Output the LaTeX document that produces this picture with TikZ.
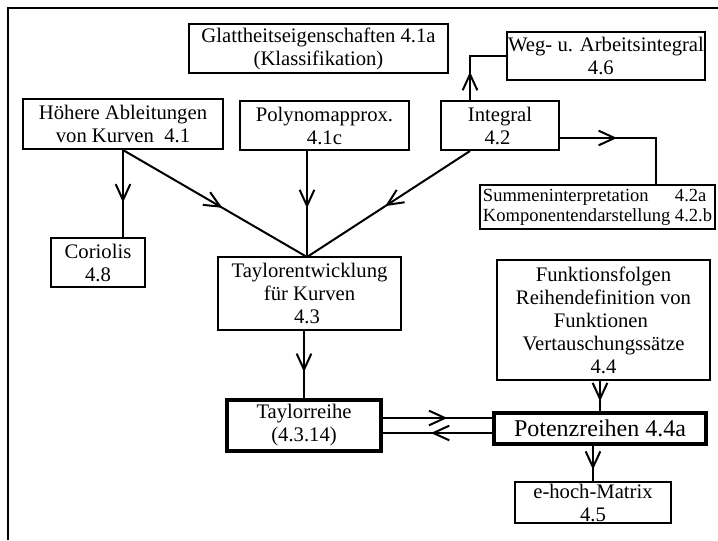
\documentclass[tikz,border=0pt]{standalone}
\usepackage{fontspec}
\setmainfont{Liberation Serif}
\usetikzlibrary{arrows.meta,decorations.markings,calc}

\begin{document}
\begin{tikzpicture}[x=0.75pt,y=-0.75pt,
    box/.style={draw, line width=1.5pt, inner sep=0pt, align=center,
      font=\fontsize{15.5}{17.25}\selectfont},
    thinbox/.style={box, line width=0.8pt},
    thickbox/.style={box, line width=2.6pt},
    boxsize/.style 2 args={minimum width=#1*0.75pt, minimum height=#2*0.75pt},
    conn/.style={line width=1.5pt},
    midarrow/.style={conn, postaction={decorate}, decoration={markings,
      mark=at position #1 with {\arrow{Straight Barb[length=12pt,width=11pt]}}}}]

    % Fix size and draw frame
    \useasboundingbox (0,0) rectangle (718,540);
    \draw[line width=1.5pt] (8,540) -- (8,8) -- (718,8);

    % Boxes of the upper row
    \node[box, boxsize={259}{49}] (glatt) at (318.5,48.5)
      {Glattheitseigenschaften 4.1a\\(Klassifikation)};
    \node[thinbox, boxsize={198}{48}] (weg) at (606,56)
      {Weg- u. Arbeitsintegral\\4.6~~~};
    \node[box, boxsize={200}{50}] (hoehere) at (123,124)
      {Höhere Ableitungen\\von Kurven~~4.1};
    \node[box, boxsize={169}{49}] (polynom) at (324.5,125.5)
      {Polynomapprox.\\4.1c};
    \node[box, boxsize={118}{49}] (integral) at (500,125.5)
      {Integral\\4.2~~};
    \node[thinbox, boxsize={235}{44}, font=\fontsize{13.9}{15}\selectfont]
      (summen) at (597.5,207)
      {\begin{tabular}{@{}l@{ }l@{}}Summeninterpretation & 4.2a\\
       Komponentendarstellung & 4.2.b\end{tabular}};

    % Boxes of the middle and lower part
    \node[thinbox, boxsize={94}{49}] (coriolis) at (98,262.5)
      {Coriolis\\4.8};
    \node[box, boxsize={183}{73}] (tayent) at (309.5,293.5)
      {Taylorentwicklung\\für Kurven\\4.3~~};
    \node[box, boxsize={213}{120}] (funk) at (603.5,320)
      {Funktionsfolgen\\Reihendefinition von\\Funktionen~~\\Vertauschungssätze\\4.4};
    \node[thickbox, boxsize={154}{51}] (tayreihe) at (304,425.5)
      {Taylorreihe\\(4.3.14)};
    \node[thickbox, boxsize={212}{31}, font=\fontsize{18}{21}\selectfont]
      (potenz) at (600,428.5) {Potenzreihen 4.4a};
    \node[box, boxsize={156}{41}] (ehoch) at (593,502.5)
      {e-hoch-Matrix\\4.5};

    % Connectors
    \coordinate (meet) at (307,257);
    \draw[midarrow=0.6] (hoehere.south) -- (hoehere.south |- coriolis.north);
    \draw[midarrow=0.54] (hoehere.south) -- (meet);
    \draw[midarrow=0.54] (meet |- polynom.south) -- (meet);
    \draw[midarrow=0.52] ($(integral.south)+(-30,0)$) -- (meet);
    \draw[midarrow=0.35] ($(integral.north)+(-30,0)$) |- (weg.west);
    \draw[midarrow=0.4] ($(integral.east)+(0,12.5)$) -| ($(summen.north)+(58.5,0)$);
    \draw[midarrow=0.61] (tayreihe.north |- tayent.south) -- (tayreihe.north);
    \draw[midarrow=0.67] (potenz.north |- funk.south) -- (potenz.north);
    \draw[midarrow=0.68] (ehoch.north |- potenz.south) -- (ehoch.north);

    % Double connection between the two series
    \coordinate (upper) at ($(tayreihe.east)+(0,-7.5)$);
    \coordinate (lower) at ($(tayreihe.east)+(0,7.5)$);
    \draw[midarrow=0.59] (upper) -- (upper -| potenz.west);
    \draw[midarrow=0.56] (lower -| potenz.west) -- (lower);
\end{tikzpicture}
\end{document}
